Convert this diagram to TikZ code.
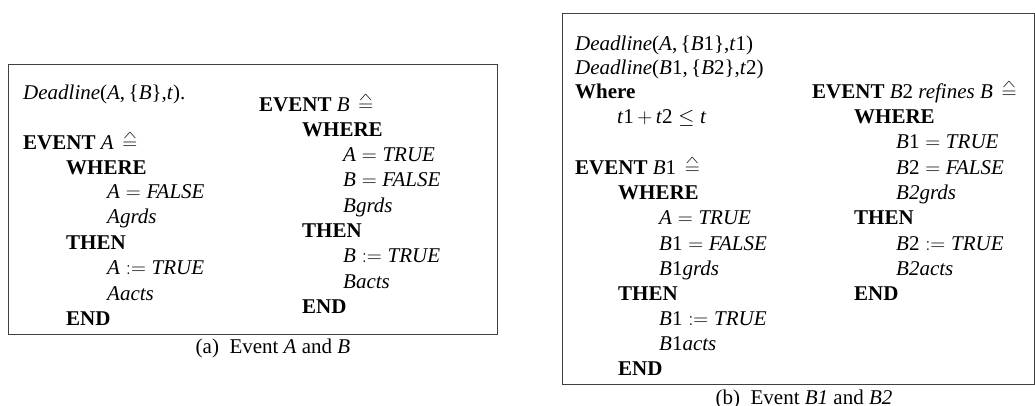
\documentclass[tikz,border=0pt]{standalone}
\usepackage{fontspec}
\usepackage{graphicx}
\setmainfont{Liberation Serif}
\newcommand\heq{\,\ooalign{$=$\cr\hidewidth\raisebox{0.5em}{\scalebox{1.0}[0.5]{$\wedge$}}\hidewidth\cr}}
\newcommand\iv[1]{\textit{#1}}
\newcommand\eqs{$\;=\;$}
\newcommand\asg{$\;:=\;$}
\tikzset{
  txt/.style={anchor=base west, inner sep=0pt, font=\fontsize{21}{25}\selectfont},
  captxt/.style={anchor=base, inner sep=0pt, font=\fontsize{21}{25}\selectfont},
  frame/.style={draw=black!75, line width=1pt}
}
\begin{document}
\begin{tikzpicture}[x=1pt,y=-1pt]
\useasboundingbox (0,0) rectangle (1035,405);
% ---- left box
\draw[frame] (8,64) rectangle (497,334);
\node[txt] (a0) at (23,99) {\iv{Deadline}(\iv{A},\,\{\iv{B}\},\iv{t}).};
\node[txt] (a1) at (23,149) {\textbf{EVENT} \iv{A} \heq};
\node[txt] (a2) at (66,174) {\textbf{WHERE}};
\node[txt] (a3) at (107,198) {\iv{A}\eqs\iv{FALSE}};
\node[txt] (a4) at (107,223) {\iv{Agrds}};
\node[txt] (a5) at (66,249) {\textbf{THEN}};
\node[txt] (a6) at (107,274) {\iv{A}\asg\iv{TRUE}};
\node[txt] (a7) at (107,300) {\iv{Aacts}};
\node[txt] (a8) at (66,325) {\textbf{END}};
\node[txt] (b1) at (259,111) {\textbf{EVENT} \iv{B} \heq};
\node[txt] (b2) at (302,136) {\textbf{WHERE}};
\node[txt] (b3) at (343,161) {\iv{A}\eqs\iv{TRUE}};
\node[txt] (b4) at (343,186) {\iv{B}\eqs\iv{FALSE}};
\node[txt] (b5) at (343,212) {\iv{Bgrds}};
\node[txt] (b6) at (302,237) {\textbf{THEN}};
\node[txt] (b7) at (343,262) {\iv{B}\asg\iv{TRUE}};
\node[txt] (b8) at (343,288) {\iv{Bacts}};
\node[txt] (b9) at (302,313) {\textbf{END}};
\node[captxt] (capa) at (273,353) {(a)\ \ Event \iv{A} and \iv{B}};
% ---- right box
\draw[frame] (562,13) rectangle (1034,384);
\node[txt] (c0) at (575,50) {\iv{Deadline}(\iv{A},\,\{\iv{B}1\},\iv{t}1)};
\node[txt] (c1) at (575,74) {\iv{Deadline}(\iv{B}1,\,\{\iv{B}2\},\iv{t}2)};
\node[txt] (c2) at (575,98) {\textbf{Where}};
\node[txt] (c3) at (617,123) {\iv{t}1$\,+\,$\iv{t}2$\;\leq\;$\iv{t}};
\node[txt] (d1) at (575,174) {\textbf{EVENT} \iv{B}1 \heq};
\node[txt] (d2) at (618,199) {\textbf{WHERE}};
\node[txt] (d3) at (659,224) {\iv{A}\eqs\iv{TRUE}};
\node[txt] (d4) at (659,250) {\iv{B}1\eqs\iv{FALSE}};
\node[txt] (d5) at (659,275) {\iv{B}1\iv{grds}};
\node[txt] (d6) at (618,300) {\textbf{THEN}};
\node[txt] (d7) at (659,325) {\iv{B}1\asg\iv{TRUE}};
\node[txt] (d8) at (659,350) {\iv{B}1\iv{acts}};
\node[txt] (d9) at (618,375) {\textbf{END}};
\node[txt] (e1) at (812,98) {\textbf{EVENT} \iv{B}2 \iv{refines B} \heq};
\node[txt] (e2) at (854,123) {\textbf{WHERE}};
\node[txt] (e3) at (896,148) {\iv{B}1\eqs\iv{TRUE}};
\node[txt] (e4) at (896,174) {\iv{B}2\eqs\iv{FALSE}};
\node[txt] (e5) at (896,199) {\iv{B2grds}};
\node[txt] (e6) at (854,224) {\textbf{THEN}};
\node[txt] (e7) at (896,250) {\iv{B}2\asg\iv{TRUE}};
\node[txt] (e8) at (896,275) {\iv{B2acts}};
\node[txt] (e9) at (854,300) {\textbf{END}};
\node[captxt] (capb) at (804,404) {(b)\ \ Event \iv{B1} and \iv{B2}};
\end{tikzpicture}
\end{document}
